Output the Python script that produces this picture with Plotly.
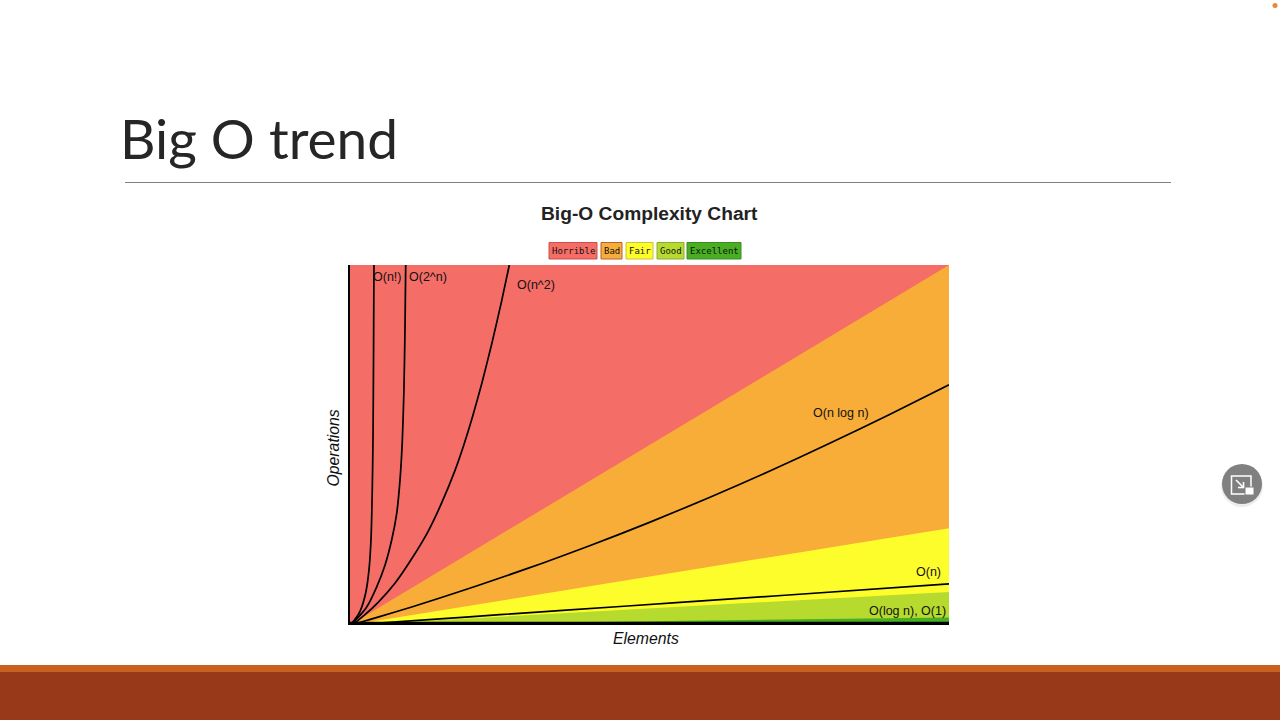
import plotly.graph_objects as go

W, H = 1280, 720
PLOT_L, PLOT_R, PLOT_T, PLOT_B = 350, 949, 265, 625

# ---- data (x: elements 0-100, y: operations 0-100)
zone_names = ["Horrible", "Bad", "Fair", "Good", "Excellent"]
zone_colors = ["#F46D66", "#F8AD39", "#FEFD2C", "#B6DB2E", "#48AE22"]
zone_borders = ["#C9504B", "#B5603A", "#C9C23A", "#8EA83A", "#3E8A22"]
zone_x = [0, 100]
zone_tops = [[100, 100], [0, 100], [0, 26.9], [0, 9.2], [0, 2.1]]

fact_x = [0, 0.6, 1.67, 2.62, 3.17, 3.5, 3.72, 3.85, 3.93, 4.0]
fact_y = [0, 1.1, 3.8, 8.9, 15.3, 23.6, 37.5, 53, 75, 100]
exp_x = [0, 1.39, 2.79, 4.46, 5.84, 6.96, 7.8, 8.35, 8.73, 9.0, 9.18, 9.3]
exp_y = [0, 2.2, 5.0, 10.6, 16.6, 23.6, 31, 40.3, 51, 65, 82, 100]
quad_x = [0, 0.83, 2.5, 4.7, 7.5, 10.3, 13.07, 15.3, 17.5, 19, 20.5, 22, 23.65, 25.3, 26.6]
quad_y = [0, 0.7, 2.9, 6.3, 11.6, 18.4, 26.1, 33.9, 42.8, 50, 58.1, 67.1, 78, 89.9, 100]
nlogn_x = [0, 2, 4.67, 10.3, 15, 20.87, 26, 32, 40, 50, 60, 70, 80, 90, 100]
nlogn_y = [0, 0.9, 2.2, 5, 7.5, 10.7, 13.6, 17.1, 22, 28.5, 35.4, 42.7, 50.4, 58.4, 66.7]
linear_x = [0, 15, 25, 36.1, 55.1, 72, 100]
linear_y = [0, 1.72, 2.86, 4.12, 6.28, 8.2, 11.4]
const_x = [0, 100]
const_y = [0.45, 0.45]

curves = [(fact_x, fact_y), (exp_x, exp_y), (quad_x, quad_y),
          (nlogn_x, nlogn_y), (linear_x, linear_y)]
curve_names = ["O(n!)", "O(2^n)", "O(n^2)", "O(n log n)", "O(n)"]

label_texts = ["O(n!)", "O(2^n)", "O(n^2)", "O(n log n)", "O(n)", "O(log n), O(1)"]
label_x = [6.2, 13.1, 31.1, 82.0, 96.6, 93.1]
label_y = [96.6, 96.6, 94.4, 59.0, 14.7, 4.0]

title_text = "Big O trend"
chart_title = "Big-O Complexity Chart"
x_title = "Elements"
y_title = "Operations"


def px(x):
    return (x - PLOT_L) / (PLOT_R - PLOT_L)


def py(y):
    return (PLOT_B - y) / (PLOT_B - PLOT_T)


fig = go.Figure()

for name, color, top in zip(zone_names, zone_colors, zone_tops):
    fig.add_trace(go.Scatter(x=zone_x, y=top, mode="lines", name=name,
                             line=dict(width=0, color=color),
                             fill="tozeroy", fillcolor=color,
                             hoverinfo="name", showlegend=False))

for (cx, cy), name in zip(curves, curve_names):
    fig.add_trace(go.Scatter(x=cx, y=cy, mode="lines", name=name,
                             line=dict(color="#000000", width=1.7, shape="spline", smoothing=0.6),
                             showlegend=False))

fig.add_trace(go.Scatter(x=const_x, y=const_y, mode="lines", name="O(1)",
                         line=dict(color="#000000", width=3.3), showlegend=False))

shapes = []
annotations = []


def text(x, y, s, size, family="Liberation Sans", color="#000000", anchor="center", angle=0):
    annotations.append(dict(xref="paper", yref="paper", x=px(x), y=py(y), text=s,
                            showarrow=False, xanchor=anchor, yanchor="middle", textangle=angle,
                            font=dict(size=size, family=family, color=color)))


def rect(x0, y0, x1, y1, fill, line=None, lw=1):
    shapes.append(dict(type="rect", xref="paper", yref="paper", x0=px(x0), x1=px(x1),
                       y0=py(y0), y1=py(y1), fillcolor=fill, layer="above",
                       line=dict(color=line or fill, width=lw if line else 0)))


def circle(cx, cy, r, fill):
    shapes.append(dict(type="circle", xref="paper", yref="paper", x0=px(cx - r), x1=px(cx + r),
                       y0=py(cy - r), y1=py(cy + r), fillcolor=fill, layer="above",
                       line=dict(width=0)))


def seg(x0, y0, x1, y1, width=1.6):
    shapes.append(dict(type="line", xref="paper", yref="paper", x0=px(x0), y0=py(y0),
                       x1=px(x1), y1=py(y1), line=dict(color="#FFFFFF", width=width), layer="above"))


# slide decoration
text(259, 138, title_text, 55, family="Lato", color="#262626")
rect(125, 182, 1171, 183, "#7F7F7F")
rect(0, 665, W, 672, "#C8601F")
rect(0, 672, W, H, "#98391A")
circle(1275, 5.5, 2.5, "#E8863A")

# round window button
circle(1242, 486, 21, "#EDEDED")
circle(1242, 484, 20, "#808080")
rect(1231.5, 476, 1251, 494, "rgba(0,0,0,0)", "#FFFFFF", 1.5)
rect(1245, 487, 1254, 495, "#FFFFFF", "#808080", 1)
seg(1236, 480, 1243, 487)
seg(1243.5, 482, 1243.5, 488)
seg(1238, 487.5, 1244, 487.5)

# chart title and axis titles
text(649.5, 213.5, f"<b>{chart_title}</b>", 19.2, color="#222222")
text(645.5, 638.5, f"<i>{x_title}</i>", 15.8, color="#111111")
text(332.5, 448, f"<i>{y_title}</i>", 15.8, color="#111111", angle=-90)

# legend chips
chip_left = [549, 601, 626, 657, 687]
chip_right = [597, 622, 653, 684, 741]
for name, color, border, x0, x1 in zip(zone_names, zone_colors, zone_borders, chip_left, chip_right):
    rect(x0, 242.5, x1, 259, color, border, 1)
    text((x0 + x1) / 2, 251, name, 9, family="DejaVu Sans Mono", color="#111111")

# curve labels, placed in data coordinates
for s, lx, ly in zip(label_texts, label_x, label_y):
    annotations.append(dict(xref="x", yref="y", x=lx, y=ly, text=s, showarrow=False,
                            xanchor="center", yanchor="middle",
                            font=dict(size=12.5, family="Liberation Sans", color="#111111")))

fig.update_layout(
    width=W, height=H, autosize=False,
    margin=dict(l=PLOT_L, r=W - PLOT_R, t=PLOT_T, b=H - PLOT_B, pad=0),
    paper_bgcolor="#FFFFFF", plot_bgcolor="#FFFFFF",
    showlegend=False, shapes=shapes, annotations=annotations,
    xaxis=dict(range=[0, 100], showgrid=False, zeroline=False, showticklabels=False, ticks="",
               showline=False),
    yaxis=dict(range=[0, 100], showgrid=False, zeroline=False, showticklabels=False, ticks="",
               showline=True, linecolor="#000000", linewidth=2, mirror=False),
)

fig.write_html("out.html", config=dict(displayModeBar=False),
               post_script="document.body.style.margin='0';document.body.style.overflow='hidden';")
